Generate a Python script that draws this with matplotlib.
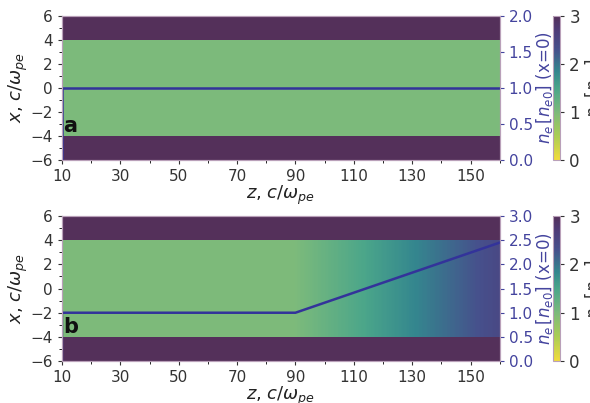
import numpy as np
import matplotlib
matplotlib.use("Agg")
import matplotlib.pyplot as plt
from matplotlib.colors import LinearSegmentedColormap

# ---- data ----
z_range = [10, 160]
x_range = [-6, 6]
channel_half_width = 4
wall_density = 3.0
# panel a: uniform channel
z_a = [10, 10, 160]
ne_a = [0.0, 1.0, 1.0]
# panel b: uniform then linear ramp
z_b = [10, 10, 90, 160]
ne_b = [0.0, 1.0, 1.0, 2.45]
xticks = [-6, -4, -2, 0, 2, 4, 6]
zticks = [10, 30, 50, 70, 90, 110, 130, 150]
right_lims = [2.0, 3.0]
cbar_ticks = [0, 1, 2, 3]

line_color = '#33339a'
tick_color2 = '#44449e'
spine_color = '#b9a0b9'

# washed-out viridis_r, as it appears in the figure
cmap = LinearSegmentedColormap.from_list('wviridis_r', [
    (0.0, '#f2dc3c'),
    (0.167, '#aacd55'),
    (0.333, '#7cba7b'),
    (0.5, '#4aa58a'),
    (0.617, '#34868e'),
    (0.767, '#46508c'),
    (0.9, '#4e3c78'),
    (1.0, '#54305a'),
])

fig = plt.figure(figsize=(5.9, 4.03), dpi=100)

panels = [
    (z_a, ne_a, right_lims[0], 'a', [0.105, 0.603, 0.742, 0.357], [0.937, 0.603, 0.0125, 0.357]),
    (z_b, ne_b, right_lims[1], 'b', [0.105, 0.104, 0.742, 0.360], [0.937, 0.104, 0.0125, 0.360]),
]

for zs, ne, rlim, lab, rect, crect in panels:
    ax = fig.add_axes(rect)
    # walls and base of channel
    Zw, Xw = np.meshgrid(z_range, [x_range[0], -channel_half_width, channel_half_width, x_range[1]])
    Cw = np.array([[wall_density], [ne[1]], [wall_density]])
    m = ax.pcolormesh(Zw, Xw, Cw, cmap=cmap, vmin=0, vmax=3, edgecolors='none', zorder=1)
    # channel profile from the x=0 curve (library contouring fills between knots)
    zc = np.array(zs[1:])
    nc = np.array(ne[1:])
    if nc.max() > nc.min():
        C = np.vstack([nc, nc])
        ax.contourf(zc, [-channel_half_width, channel_half_width], C,
                    levels=np.linspace(0, 3, 361), cmap=cmap, vmin=0, vmax=3,
                    antialiased=False, zorder=2)
    ax.set_xlim(*z_range)
    ax.set_ylim(*x_range)
    ax.set_xticks(zticks)
    ax.set_yticks(xticks)
    ax.set_xticks(np.arange(10, 161, 10), minor=True)
    ax.set_yticks(np.arange(-6, 6.1, 1), minor=True)
    ax.tick_params(labelsize=11, colors='#333333', length=3)
    ax.tick_params(which='minor', length=2)
    ax.set_xlabel(r'$z$, $c/\omega_{pe}$', fontsize=13, labelpad=0, color='#222222')
    ax.set_ylabel(r'$x$, $c/\omega_{pe}$', fontsize=13, labelpad=0, color='#222222')
    ax.text(10.4, -3.2, lab, fontsize=15, fontweight='bold', va='center', ha='left',
            color='#111111', zorder=5)
    for s in ax.spines.values():
        s.set_color(spine_color)

    ax2 = ax.twinx()
    ax2.plot(zs, ne, color=line_color, lw=1.8)
    ax2.set_ylim(0, rlim)
    ax2.set_yticks(np.arange(0, rlim + 0.01, 0.5))
    ax2.yaxis.set_major_formatter(matplotlib.ticker.FormatStrFormatter('%.1f'))
    ax2.tick_params(labelsize=11, colors=tick_color2, length=3)
    ax2.set_ylabel(r'$n_e\,[n_{e0}]$ (x=0)', fontsize=12, color=tick_color2, labelpad=1)
    for s in ax2.spines.values():
        s.set_color(spine_color)

    cax = fig.add_axes(crect)
    cb = fig.colorbar(m, cax=cax, ticks=cbar_ticks)
    cb.outline.set_edgecolor(spine_color)
    cb.ax.tick_params(labelsize=12, colors='#333333', length=3)
    cb.set_label(r'$n_e\,[n_{e0}]$', fontsize=12, color='#333333', labelpad=2)

fig.savefig('out.png', dpi=100)
